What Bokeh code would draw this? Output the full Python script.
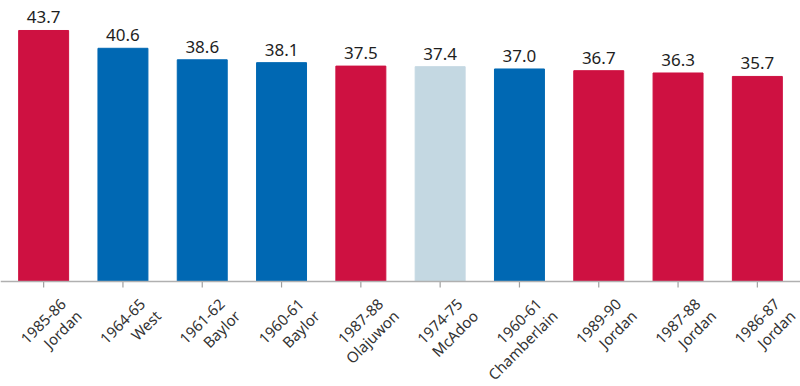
import math
from bokeh.plotting import figure
from bokeh.models import ColumnDataSource, Range1d, FactorRange, Span
from bokeh.core.properties import value
from bokeh.embed import file_html
from bokeh.resources import INLINE

seasons = ["1985-86", "1964-65", "1961-62", "1960-61", "1987-88", "1974-75", "1960-61", "1989-90", "1987-88", "1986-87"]
players = ["Jordan", "West", "Baylor", "Baylor", "Olajuwon", "McAdoo", "Chamberlain", "Jordan", "Jordan", "Jordan"]
points = [43.7, 40.6, 38.6, 38.1, 37.5, 37.4, 37.0, 36.7, 36.3, 35.7]
colors = ["#ce1141", "#0068b3", "#0068b3", "#0068b3", "#ce1141", "#c4d8e2", "#0068b3", "#ce1141", "#ce1141", "#ce1141"]

W, H = 800, 386
BASE_PX = 281          # baseline position from top of figure
PX_PER_UNIT = 5.744
TICK_PX = 6

keys = [f"{i}" for i in range(len(points))]
src = ColumnDataSource(dict(k=keys, season=seasons, player=players, pts=points, col=colors,
                            lbl=[f"{v:.1f}" for v in points],
                            zero=[0.0] * len(points),
                            tick=[-TICK_PX / PX_PER_UNIT] * len(points)))

y_end = BASE_PX / PX_PER_UNIT
y_start = -(H - BASE_PX) / PX_PER_UNIT

p = figure(x_range=FactorRange(*keys, range_padding=0.0088), y_range=Range1d(y_start, y_end),
           width=W, height=H, output_backend="svg", toolbar_location=None,
           min_border_left=0, min_border_right=0, min_border_top=0, min_border_bottom=0)
p.outline_line_color = None
p.axis.visible = False
p.grid.visible = False

p.vbar(x="k", top="pts", width=0.63, color="col", line_color="col", source=src)
p.text(x="k", y="pts", text="lbl", source=src, text_align="center", text_baseline="bottom",
       y_offset=-7, text_font=value("Noto Sans"), text_font_size="17px", text_color="#1e1e1e")

p.add_layout(Span(location=0, dimension="width", line_color="#b0b0b0", line_width=1.5))
p.segment(x0="k", y0="zero", x1="k", y1="tick", source=src, line_color="#a0a0a0", line_width=1.2)

lab = dict(angle=math.pi / 4, text_font=value("Noto Sans"), text_font_size="15px",
           text_color="#333333", text_baseline="middle")
p.text(x="k", y="zero", text="season", source=src, text_align="center",
       x_offset=0, y_offset=40, **lab)
p.text(x="k", y="zero", text="player", source=src, text_align="right",
       x_offset=35, y_offset=31.5, **lab)

open("out.html", "w").write(file_html(p, INLINE))
